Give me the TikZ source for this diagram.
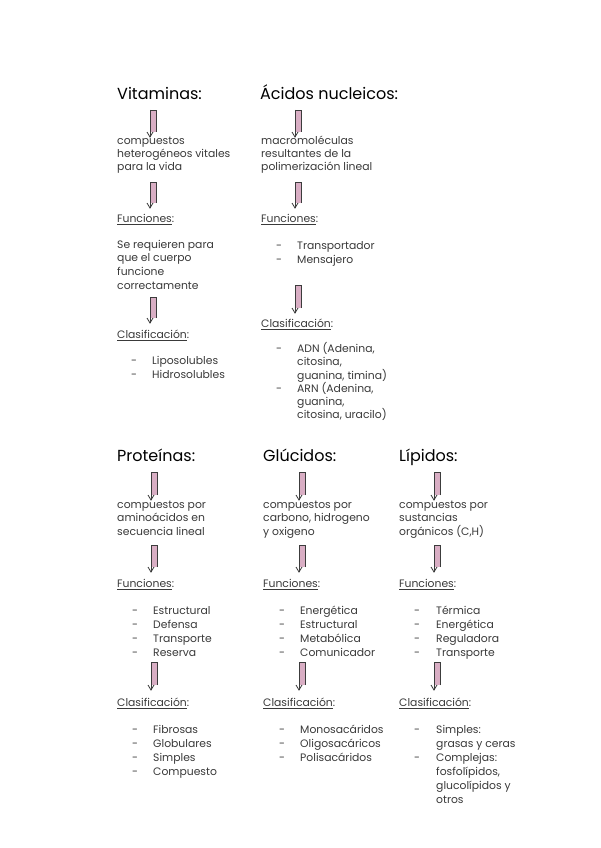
\documentclass[tikz,border=0pt]{standalone}
\usepackage{fontspec}
\setmainfont{Poppins}
\definecolor{txt}{HTML}{3A3A3A}
\definecolor{pinkfill}{HTML}{D9AEC4}
\definecolor{arrowline}{HTML}{3C3C3C}
\tikzset{
  title/.style={anchor=mid west, inner sep=0pt, font=\fontsize{16}{19}\selectfont, text=black},
  body/.style={anchor=mid west, inner sep=0pt, font=\fontsize{10.8}{13}\selectfont, text=txt},
  head/.style={anchor=mid west, inner sep=0pt, font=\fontsize{10.8}{13}\selectfont, text=txt},
  dashmark/.style={anchor=mid west, inner sep=0pt, font=\fontsize{10.8}{13}\selectfont, text=txt},
}
\newcommand{\parrow}[3]{%
  \fill[pinkfill] (#1-1,#2) rectangle (#1+5,#3-5);
  \draw[arrowline, line width=0.5pt] (#1+5,#3-5) -- (#1+5,#2) -- (#1-1,#2);
  \draw[arrowline, line width=0.8pt] (#1-1,#2) -- (#1-1,#3);
  \draw[arrowline, line width=0.8pt] (#1-4,#3-5) -- (#1-1,#3) -- (#1+2,#3-5);
}
\begin{document}
\begin{tikzpicture}[x=1pt,y=-1pt]
\useasboundingbox (0,0) rectangle (600,848);
\fill[white] (0,0) rectangle (600,848);

% ---------- Vitaminas ----------
\node[title] (vt) at (117,97) {Vitaminas:};
\parrow{151}{110}{137}
\node[body] (v1) at (117,142) {compuestos};
\node[body] (v2) at (117,155) {heterogéneos vitales};
\node[body] (v3) at (117,168) {para la vida};
\parrow{151}{182}{208}
\node[head] (vf) at (117,220) {\underline{Funciones}:};
\node[body] (vf1) at (117,246) {Se requieren para};
\node[body] (vf2) at (117,259) {que el cuerpo};
\node[body] (vf3) at (117,273) {funcione};
\node[body] (vf4) at (117,287) {correctamente};
\parrow{151}{297}{323}
\node[head] (vc) at (117,336) {\underline{Clasificación}:};
\node[dashmark] at (131,362) {-};
\node[body] (vc1) at (152,362) {Liposolubles};
\node[dashmark] at (131,376) {-};
\node[body] (vc2) at (152,376) {Hidrosolubles};

% ---------- Acidos nucleicos ----------
\node[title] (at) at (260,97) {Ácidos nucleicos:};
\parrow{296}{110}{137}
\node[body] (a1) at (261,142) {macromoléculas};
\node[body] (a2) at (261,155) {resultantes de la};
\node[body] (a3) at (261,168) {polimerización lineal};
\parrow{296}{182}{208}
\node[head] (af) at (261,220) {\underline{Funciones}:};
\node[dashmark] at (276,247) {-};
\node[body] (af1) at (297,247) {Transportador};
\node[dashmark] at (276,261) {-};
\node[body] (af2) at (297,261) {Mensajero};
\parrow{296}{285}{313}
\node[head] (ac) at (261,325) {\underline{Clasificación}:};
\node[dashmark] at (276,350) {-};
\node[body] (ac1) at (297,350) {ADN (Adenina,};
\node[body] (ac2) at (297,363) {citosina,};
\node[body] (ac3) at (297,377) {guanina, timina)};
\node[dashmark] at (276,390) {-};
\node[body] (ac4) at (297,390) {ARN (Adenina,};
\node[body] (ac5) at (297,403) {guanina,};
\node[body] (ac6) at (297,416) {citosina, uracilo)};

% ---------- Proteinas ----------
\node[title] (pt) at (117,459) {Proteínas:};
\parrow{152}{472}{500}
\node[body] (p1) at (117,506) {compuestos por};
\node[body] (p2) at (117,519) {aminoácidos en};
\node[body] (p3) at (117,533) {secuencia lineal};
\parrow{152}{545}{572}
\node[head] (pf) at (117,585) {\underline{Funciones}:};
\node[dashmark] at (132,612) {-};
\node[body] (pf1) at (153,612) {Estructural};
\node[dashmark] at (132,626) {-};
\node[body] (pf2) at (153,626) {Defensa};
\node[dashmark] at (132,640) {-};
\node[body] (pf3) at (153,640) {Transporte};
\node[dashmark] at (132,654) {-};
\node[body] (pf4) at (153,654) {Reserva};
\parrow{152}{662}{690}
\node[head] (pc) at (117,704) {\underline{Clasificación}:};
\node[dashmark] at (132,731) {-};
\node[body] (pc1) at (153,731) {Fibrosas};
\node[dashmark] at (132,745) {-};
\node[body] (pc2) at (153,745) {Globulares};
\node[dashmark] at (132,759) {-};
\node[body] (pc3) at (153,759) {Simples};
\node[dashmark] at (132,773) {-};
\node[body] (pc4) at (153,773) {Compuesto};

% ---------- Glucidos ----------
\node[title] (gt) at (263,459) {Glúcidos:};
\parrow{300}{472}{500}
\node[body] (g1) at (263,506) {compuestos por};
\node[body] (g2) at (263,519) {carbono, hidrogeno};
\node[body] (g3) at (263,533) {y oxigeno};
\parrow{300}{545}{572}
\node[head] (gf) at (263,585) {\underline{Funciones}:};
\node[dashmark] at (279,612) {-};
\node[body] (gf1) at (300,612) {Energética};
\node[dashmark] at (279,626) {-};
\node[body] (gf2) at (300,626) {Estructural};
\node[dashmark] at (279,640) {-};
\node[body] (gf3) at (300,640) {Metabólica};
\node[dashmark] at (279,654) {-};
\node[body] (gf4) at (300,654) {Comunicador};
\parrow{300}{662}{690}
\node[head] (gc) at (263,704) {\underline{Clasificación}:};
\node[dashmark] at (279,731) {-};
\node[body] (gc1) at (300,731) {Monosacáridos};
\node[dashmark] at (279,745) {-};
\node[body] (gc2) at (300,745) {Oligosacáricos};
\node[dashmark] at (279,759) {-};
\node[body] (gc3) at (300,759) {Polisacáridos};

% ---------- Lipidos ----------
\node[title] (lt) at (399,459) {Lípidos:};
\parrow{435}{472}{500}
\node[body] (l1) at (399,506) {compuestos por};
\node[body] (l2) at (399,519) {sustancias};
\node[body] (l3) at (399,533) {orgánicos (C,H)};
\parrow{435}{545}{572}
\node[head] (lf) at (399,585) {\underline{Funciones}:};
\node[dashmark] at (414,612) {-};
\node[body] (lf1) at (436,612) {Térmica};
\node[dashmark] at (414,626) {-};
\node[body] (lf2) at (436,626) {Energética};
\node[dashmark] at (414,640) {-};
\node[body] (lf3) at (436,640) {Reguladora};
\node[dashmark] at (414,654) {-};
\node[body] (lf4) at (436,654) {Transporte};
\parrow{435}{662}{690}
\node[head] (lc) at (399,704) {\underline{Clasificación}:};
\node[dashmark] at (414,731) {-};
\node[body] (lc1) at (436,731) {Simples:};
\node[body] (lc2) at (436,745) {grasas y ceras};
\node[dashmark] at (414,759) {-};
\node[body] (lc3) at (436,759) {Complejas:};
\node[body] (lc4) at (436,773) {fosfolípidos,};
\node[body] (lc5) at (436,787) {glucolípidos y};
\node[body] (lc6) at (436,801) {otros};
\end{tikzpicture}
\end{document}
